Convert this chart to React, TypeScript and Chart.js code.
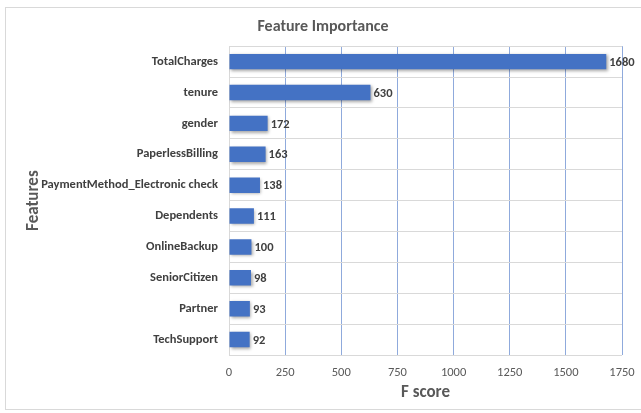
import React, { useEffect, useRef } from "react";
import { Chart, registerables } from "chart.js";

Chart.register(...registerables);

const features = [
  "TotalCharges",
  "tenure",
  "gender",
  "PaperlessBilling",
  "PaymentMethod_Electronic check",
  "Dependents",
  "OnlineBackup",
  "SeniorCitizen",
  "Partner",
  "TechSupport",
];
const scores = [1680, 630, 172, 163, 138, 111, 100, 98, 93, 92];
const xTicks = [0, 250, 500, 750, 1000, 1250, 1500, 1750];

const FONT = "Carlito, Calibri, Lato, sans-serif";

const valueLabels = {
  id: "valueLabels",
  afterDatasetsDraw(chart: any) {
    const ctx = chart.ctx;
    const meta = chart.getDatasetMeta(0);
    ctx.save();
    ctx.font = `bold 12.5px ${FONT}`;
    ctx.fillStyle = "#404040";
    ctx.textAlign = "left";
    ctx.textBaseline = "middle";
    meta.data.forEach((el: any, i: number) => {
      ctx.fillText(String(scores[i]), el.x + 3, el.y + 1);
    });
    ctx.restore();
  },
};

const barShadow = {
  id: "barShadow",
  beforeDatasetsDraw(chart: any) {
    const ctx = chart.ctx;
    ctx.save();
    ctx.shadowColor = "rgba(0,0,0,0.35)";
    ctx.shadowBlur = 3;
    ctx.shadowOffsetX = 1.5;
    ctx.shadowOffsetY = 1.5;
  },
  afterDatasetsDraw(chart: any) {
    chart.ctx.restore();
  },
};

export default function App() {
  const ref = useRef<HTMLCanvasElement>(null);
  useEffect(() => {
    const chart = new Chart(ref.current!, {
      type: "bar",
      data: {
        labels: features,
        datasets: [
          {
            data: scores,
            backgroundColor: (c: any) => {
              const area = c.chart.chartArea;
              const el = c.element;
              if (!area || !el || el.y === undefined) return "#4472C4";
              const h = el.height || 15;
              const g = c.chart.ctx.createLinearGradient(0, el.y - h / 2, 0, el.y + h / 2);
              g.addColorStop(0, "#628EDE");
              g.addColorStop(0.45, "#4876CE");
              g.addColorStop(1, "#3563C0");
              return g;
            },
            borderWidth: 0,
            barPercentage: 0.5,
            categoryPercentage: 1,
          },
        ],
      },
      options: {
        indexAxis: "y",
        responsive: false,
        animation: false,
        devicePixelRatio: 1,
        layout: { padding: { left: 24, right: 19, top: 0, bottom: 10 } },
        plugins: {
          legend: { display: false },
          tooltip: { enabled: false },
          title: {
            display: true,
            text: "Feature Importance",
            color: "#595959",
            font: { family: FONT, size: 16, weight: "bold" },
            padding: { top: 17, bottom: 10 },
          },
        },
        scales: {
          x: {
            min: 0,
            max: 1750,
            afterBuildTicks: (s: any) => {
              s.ticks = xTicks.map((v) => ({ value: v }));
            },
            afterFit: (s: any) => {
              s.height = 48;
              s.paddingLeft = 0;
              s.paddingRight = 0;
            },
            grid: {
              drawTicks: false,
              color: (c: any) => (c.tick && c.tick.value === 0 ? "#d9d9d9" : "#8FAADC"),
              lineWidth: 1,
            },
            border: { display: false },
            ticks: {
              color: "#595959",
              padding: 10,
              font: { family: FONT, size: 12.5 },
              callback: (v: any) => String(v),
            },
            title: {
              display: true,
              text: "F score",
              color: "#595959",
              font: { family: FONT, size: 17, weight: "bold" },
              padding: { top: 3, bottom: 0 },
            },
          },
          y: {
            afterFit: (s: any) => {
              s.width = 205;
            },
            grid: { drawTicks: false, color: "#d9d9d9", offset: true },
            border: { display: false },
            ticks: {
              color: "#404040",
              padding: 11,
              font: { family: FONT, size: 12.5, weight: "bold" },
            },
            title: {
              display: true,
              text: "Features",
              color: "#595959",
              font: { family: FONT, size: 17, weight: "bold" },
              padding: 0,
            },
          },
        },
      },
      plugins: [barShadow, valueLabels],
    } as any);
    return () => chart.destroy();
  }, []);
  return (
    <div style={{ position: "absolute", left: 0, top: 0, width: 641, height: 413, background: "#fff" }}>
      <div
        style={{
          position: "absolute",
          left: 5,
          top: 7,
          width: 645,
          height: 403,
          border: "1px solid #d9d9d9",
          boxSizing: "border-box",
        }}
      />
      <canvas ref={ref} width={641} height={413} style={{ position: "absolute", left: 0, top: 0 }} />
    </div>
  );
}
